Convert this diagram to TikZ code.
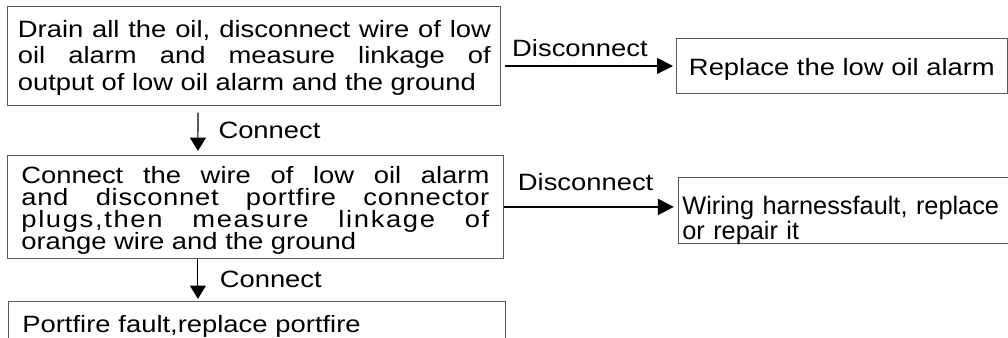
\documentclass[tikz,border=0pt]{standalone}
\usepackage{fontspec}
\setmainfont[FakeStretch=1.16]{Liberation Sans}
\newfontfamily\plainsans{Liberation Sans}
\usetikzlibrary{arrows.meta, positioning}

\begin{document}
\begin{tikzpicture}[
    every node/.style={font=\fontsize{17.7pt}{19.9pt}\selectfont, text=black},
    box/.style={rectangle, draw=black!65, line width=0.7pt, inner ysep=0pt, inner xsep=7.5pt},
    arrow/.style={-{Triangle[length=12pt, width=12pt]}, line width=1pt, shorten >=2.2pt},
    darrow/.style={-{Triangle[length=10pt, width=12pt]}, line width=0.8pt},
    lbl/.style={inner sep=0pt}
]
\useasboundingbox (0,0) rectangle (756pt,-253.5pt);
\clip (0,0) rectangle (756pt,-253.5pt);

\node[box, anchor=north west, text width=354.75pt, align=justify, text height=23.25pt, text depth=51pt] (drain) at (5.6pt,-4.5pt)
    {Drain all the oil, disconnect wire of low\linebreak oil alarm and measure linkage of\linebreak output of low oil alarm and the ground};
\node[box, below right=24pt and 130.9pt of drain.north east, minimum width=248.25pt, text height=27.75pt, text depth=13.5pt] (replace)
    {Replace the low oil alarm};
\node[box, below right=36.75pt and -0.4pt of drain.south west, inner xsep=10.5pt, text width=351pt, align=justify, text height=21pt, text depth=56.25pt,
    font=\fontsize{17.7pt}{16.5pt}\selectfont] (connectwire)
    {Connect the wire of low oil alarm\linebreak
     {\addfontfeature{LetterSpace=3}and disconnet portfire connector}\linebreak
     {\addfontfeature{LetterSpace=7}plugs,then measure linkage of}\linebreak
     orange wire and the ground};
\node[box, below right=16.5pt and 130.5pt of connectwire.north east, inner xsep=3pt, text width=241.5pt, align=left, text height=27.75pt, text depth=22pt,
    font=\plainsans\fontsize{19pt}{15.75pt}\selectfont] (harness)
    {Wiring harnessfault, replace\\or repair it};
\node[box, below right=31.5pt and 0.75pt of connectwire.south west, inner xsep=10.5pt, text width=351.75pt, align=left, text height=23.25pt, text depth=30pt] (portfire)
    {Portfire fault,replace portfire};

\draw[arrow, shorten <=2.6pt] (drain.east |- replace.west) -- (replace.west)
    node[lbl, pos=0.45, above=6.5pt] {Disconnect};
\draw[arrow, line width=1.8pt, shorten >=3pt] (connectwire.east) -- (connectwire.east -| harness.west)
    node[lbl, pos=0.47, above=11pt] {Disconnect};
\draw[darrow, shorten <=5pt, shorten >=3pt] ([xshift=142.9pt]drain.south west) -- ([xshift=143.25pt]connectwire.north west)
    node[lbl, midway, right=15pt] {Connect};
\draw[darrow, shorten >=1.5pt] ([xshift=143.25pt]connectwire.south west) -- ([xshift=142.5pt]portfire.north west)
    node[lbl, midway, right=16pt] {Connect};

\end{tikzpicture}
\end{document}
